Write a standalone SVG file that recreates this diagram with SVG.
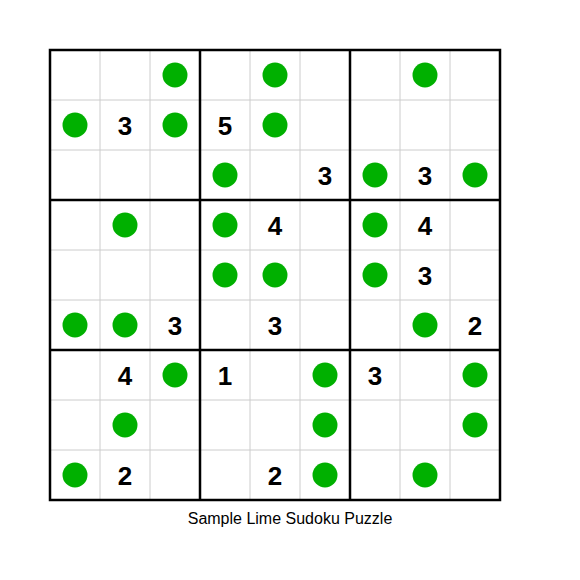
<svg xmlns="http://www.w3.org/2000/svg" width="580" height="580" viewBox="0 0 580 580">
<style>
.thin{stroke:#cccccc;stroke-width:1;fill:none}
.thick{stroke:#000;stroke-width:2.5;fill:none}
.dot{fill:#00b000}
.num{font-family:"Liberation Sans",Arial,sans-serif;font-weight:bold;font-size:26px;text-anchor:middle;fill:#000}
.cap{font-family:"Liberation Sans",Arial,sans-serif;font-size:16px;text-anchor:middle;fill:#000}
</style>
<rect width="580" height="580" fill="#fff"/>
<g id="grid">
<path class="thin" d="M100 50V500M150 50V500M250 50V500M300 50V500M400 50V500M450 50V500M50 100H500M50 150H500M50 250H500M50 300H500M50 400H500M50 450H500"/>
<path class="thick" d="M200 50V500M350 50V500M50 200H500M50 350H500"/>
<rect class="thick" x="50" y="50" width="450" height="450"/>
</g>
<g id="dots">
<circle class="dot" cx="175" cy="75" r="12.5"/>
<circle class="dot" cx="275" cy="75" r="12.5"/>
<circle class="dot" cx="425" cy="75" r="12.5"/>
<circle class="dot" cx="75" cy="125" r="12.5"/>
<circle class="dot" cx="175" cy="125" r="12.5"/>
<circle class="dot" cx="275" cy="125" r="12.5"/>
<circle class="dot" cx="225" cy="175" r="12.5"/>
<circle class="dot" cx="375" cy="175" r="12.5"/>
<circle class="dot" cx="475" cy="175" r="12.5"/>
<circle class="dot" cx="125" cy="225" r="12.5"/>
<circle class="dot" cx="225" cy="225" r="12.5"/>
<circle class="dot" cx="375" cy="225" r="12.5"/>
<circle class="dot" cx="225" cy="275" r="12.5"/>
<circle class="dot" cx="275" cy="275" r="12.5"/>
<circle class="dot" cx="375" cy="275" r="12.5"/>
<circle class="dot" cx="75" cy="325" r="12.5"/>
<circle class="dot" cx="125" cy="325" r="12.5"/>
<circle class="dot" cx="425" cy="325" r="12.5"/>
<circle class="dot" cx="175" cy="375" r="12.5"/>
<circle class="dot" cx="325" cy="375" r="12.5"/>
<circle class="dot" cx="475" cy="375" r="12.5"/>
<circle class="dot" cx="125" cy="425" r="12.5"/>
<circle class="dot" cx="325" cy="425" r="12.5"/>
<circle class="dot" cx="475" cy="425" r="12.5"/>
<circle class="dot" cx="75" cy="475" r="12.5"/>
<circle class="dot" cx="325" cy="475" r="12.5"/>
<circle class="dot" cx="425" cy="475" r="12.5"/>
</g>
<g id="numbers">
<text class="num" x="125" y="134.5">3</text>
<text class="num" x="225" y="134.5">5</text>
<text class="num" x="325" y="184.5">3</text>
<text class="num" x="425" y="184.5">3</text>
<text class="num" x="275" y="234.5">4</text>
<text class="num" x="425" y="234.5">4</text>
<text class="num" x="425" y="284.5">3</text>
<text class="num" x="175" y="334.5">3</text>
<text class="num" x="275" y="334.5">3</text>
<text class="num" x="475" y="334.5">2</text>
<text class="num" x="125" y="384.5">4</text>
<text class="num" x="225" y="384.5">1</text>
<text class="num" x="375" y="384.5">3</text>
<text class="num" x="125" y="484.5">2</text>
<text class="num" x="275" y="484.5">2</text>
</g>
<text class="cap" x="290" y="524">Sample Lime Sudoku Puzzle</text>
</svg>
